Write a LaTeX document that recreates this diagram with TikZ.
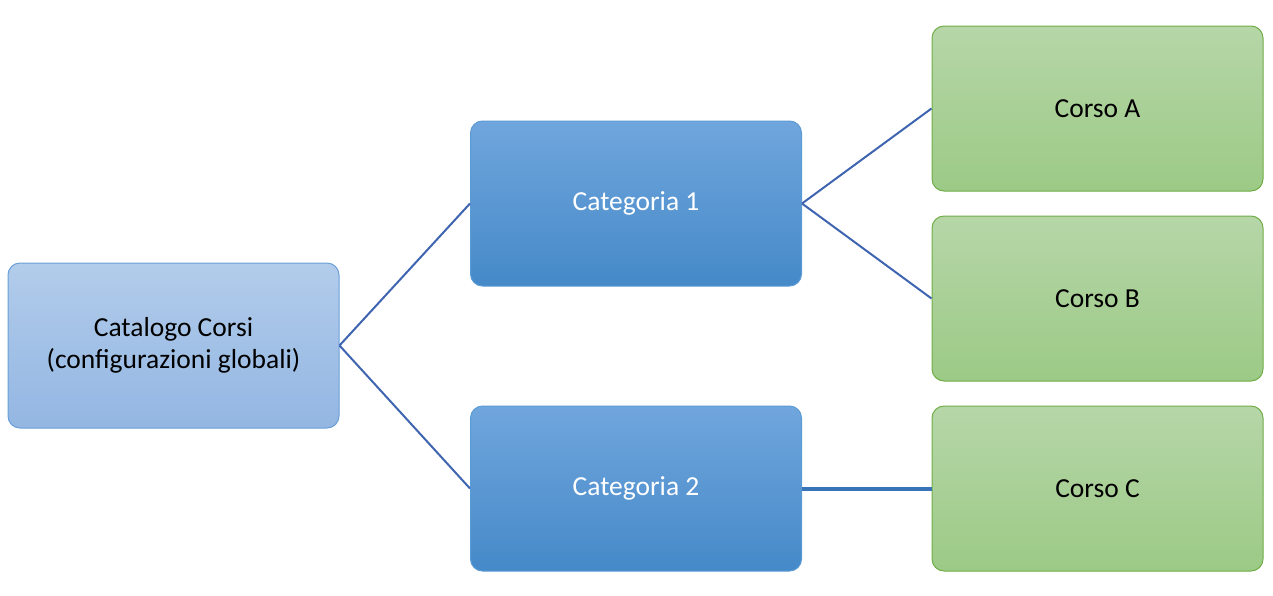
\documentclass[tikz,border=0pt]{standalone}
\usepackage{fontspec}
\setmainfont{Carlito}
\begin{document}
\begin{tikzpicture}[x=1pt,y=-1pt,
  box/.style={draw, rounded corners=12pt, minimum width=331pt, minimum height=165pt, line width=1pt, align=center, font=\fontsize{27.5}{32}\selectfont, inner sep=0pt},
  rootbox/.style={box, top color=rootT, bottom color=rootB, draw=rootD, text=black},
  catbox/.style={box, top color=catT, bottom color=catB, draw=catD, text=white},
  leafbox/.style={box, top color=leafT, bottom color=leafB, draw=leafD, text=black},
  link/.style={draw=linkC, line width=2pt}]
\definecolor{rootT}{HTML}{B2CCEB}
\definecolor{rootB}{HTML}{93B6E2}
\definecolor{rootD}{HTML}{6A9FD8}
\definecolor{catT}{HTML}{70A6DD}
\definecolor{catB}{HTML}{4589C8}
\definecolor{catD}{HTML}{5B9BD5}
\definecolor{leafT}{HTML}{B6D6A8}
\definecolor{leafB}{HTML}{9CCA86}
\definecolor{leafD}{HTML}{70AD47}
\definecolor{linkC}{HTML}{3F64B0}
\useasboundingbox (0,0) rectangle (1273,595);
\node[rootbox] (root) at (173.5,345.5) {Catalogo Corsi\\(configurazioni globali)};
\node[catbox] (c1) at (636,203.5) {Categoria 1};
\node[catbox] (c2) at (636,488.5) {Categoria 2};
\node[leafbox] (a) at (1097.5,108.5) {Corso A};
\node[leafbox] (b) at (1097.5,298.5) {Corso B};
\node[leafbox] (c) at (1097.5,488.5) {Corso C};
\draw[link] (root.east) -- (c1.west);
\draw[link] (root.east) -- (c2.west);
\draw[link] (c1.east) -- (a.west);
\draw[link] (c1.east) -- (b.west);
\draw[link, line width=4pt, draw=linkC!90!cyan] (c2.east) -- (c.west);
\end{tikzpicture}
\end{document}
